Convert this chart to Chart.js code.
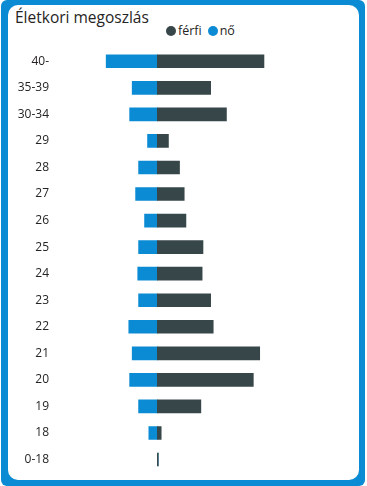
<!DOCTYPE html>
<html>
<head>
<meta charset="utf-8">
<script src="https://cdn.jsdelivr.net/npm/chart.js@4.4.0/dist/chart.umd.min.js"></script>
<style>
  html, body { margin: 0; padding: 0; background: #fff; }
  #frame { position: absolute; left: 1px; top: 0; width: 364px; height: 486px; background: #0b8bd3; border-radius: 6px; }
  #card { position: absolute; left: 8px; top: 5px; width: 351px; height: 475px; background: #fff; border-radius: 10px; }
  #title { position: absolute; left: 15px; top: 6px; font-family: "Open Sans", sans-serif; font-size: 15.5px; color: #252423; }
  #legend { position: absolute; left: 166px; top: 22px; font-family: "Open Sans", sans-serif; font-size: 12.5px; color: #252423; }
  #legend span.dot { display: inline-block; width: 10px; height: 10px; border-radius: 50%; vertical-align: -1px; margin-right: 2px; }
  #legend span.item { margin-right: 6px; }
  #wrap { position: absolute; left: 0; top: 0; width: 367px; height: 486px; }
</style>
</head>
<body>
<div id="frame"></div>
<div id="card"></div>
<div id="title">Életkori megoszlás</div>
<div id="legend"></div>
<div id="wrap"><canvas id="chart"></canvas></div>
<script>
// korcsoportok (fentről lefelé)
const korcsoportok = ['40-', '35-39', '30-34', '29', '28', '27', '26', '25', '24', '23', '22', '21', '20', '19', '18', '0-18'];

// értékek (képről leolvasva)
const ferfi = [25.0, 12.5, 16.2, 2.6, 5.2, 6.3, 6.7, 10.7, 10.5, 12.5, 13.1, 24.0, 22.5, 10.2, 0.9, 0.2];
const no = [12.0, 5.9, 6.5, 2.3, 4.4, 5.1, 3.0, 4.4, 4.6, 4.4, 6.7, 5.9, 6.5, 4.4, 2.0, 0];

const sorozatNevek = ['férfi', 'nő'];
const szinek = ['#374649', '#0b8bd3'];

// nők balra, ezért negatív
const noNegativ = no.map(v => -v);

// saját legenda
const legend = document.getElementById('legend');
sorozatNevek.forEach((nev, i) => {
  legend.innerHTML += '<span class="item"><span class="dot" style="background:' + szinek[i] + '"></span>' + nev + '</span>';
});

const data = {
  labels: korcsoportok,
  datasets: [
    {
      label: sorozatNevek[0],
      data: ferfi,
      backgroundColor: szinek[0],
      borderWidth: 0,
      barThickness: 13,
    },
    {
      label: sorozatNevek[1],
      data: noNegativ,
      backgroundColor: szinek[1],
      borderWidth: 0,
      barThickness: 13,
    },
  ],
};

const config = {
  type: 'bar',
  data,
  options: {
    indexAxis: 'y',
    responsive: true,
    maintainAspectRatio: false,
    animation: false,
    layout: {
      padding: { top: 48, bottom: 12, left: 0, right: 22 },
    },
    plugins: {
      legend: { display: false },
      tooltip: { enabled: false },
    },
    scales: {
      x: {
        stacked: true,
        display: false,
        min: -24,
        max: 44,
      },
      y: {
        stacked: true,
        grid: { display: false, drawTicks: false },
        border: { display: false },
        afterFit: (scale) => { scale.width = 55; },
        ticks: {
          padding: 6,
          color: '#252423',
          font: { family: 'Open Sans, sans-serif', size: 12 },
        },
      },
    },
  },
};

const ctx = document.getElementById('chart');
const myChart = new Chart(ctx, config);
</script>
</body>
</html>
